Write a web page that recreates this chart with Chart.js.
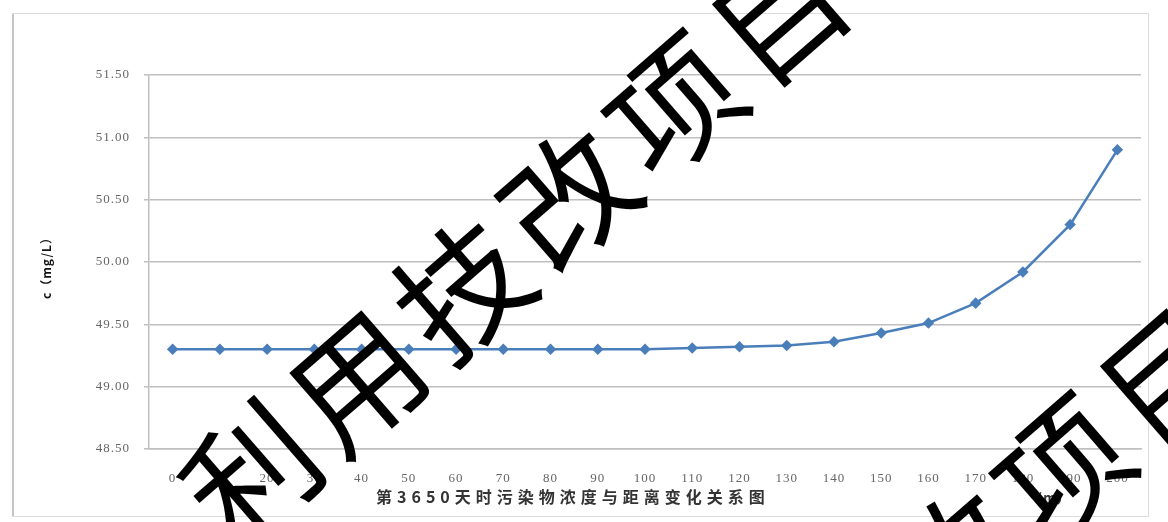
<!DOCTYPE html>
<html>
<head>
<meta charset="utf-8">
<script src="https://cdn.jsdelivr.net/npm/chart.js@4/dist/chart.umd.min.js"></script>
<style>
  html, body { margin: 0; padding: 0; background: #fff; }
  #wrap { width: 1168px; height: 522px; position: relative; }
</style>
</head>
<body>
<div id="wrap"><canvas id="graph"></canvas></div>
<script>
// distance (m) and concentration (mg/L) on day 3650
const distances = ['0', '10', '20', '30', '40', '50', '60', '70', '80', '90', '100',
  '110', '120', '130', '140', '150', '160', '170', '180', '190', '200'];
const concentration = [49.30, 49.30, 49.30, 49.30, 49.30, 49.30, 49.30, 49.30, 49.30, 49.30, 49.30,
  49.31, 49.32, 49.33, 49.36, 49.43, 49.51, 49.67, 49.92, 50.30, 50.90];

const yTitle = 'c（mg/L）';
const xTitle = '第3650天时污染物浓度与距离变化关系图';
const xUnit = '（m）';
const watermark = '利用技改项目';

const framePlugin = {
  id: 'frame',
  beforeUpdate(chart) {
    chart.ctx.letterSpacing = '1px';
  },
  beforeDraw(chart) {
    const ctx = chart.ctx;
    ctx.save();
    ctx.strokeStyle = '#dcdcdc';
    ctx.lineWidth = 1;
    ctx.strokeRect(12.5, 13.5, 1136, 503);
    ctx.strokeStyle = '#c4c4c4';
    ctx.lineWidth = 2;
    ctx.beginPath();
    ctx.moveTo(13, 14);
    ctx.lineTo(13, 516);
    ctx.stroke();
    ctx.restore();
  },
  afterDraw(chart) {
    const ctx = chart.ctx;
    ctx.save();
    // axis titles
    ctx.fillStyle = '#111';
    ctx.font = 'bold 12px "Noto Sans CJK SC"';
    ctx.letterSpacing = '1px';
    ctx.textAlign = 'center';
    ctx.textBaseline = 'middle';
    ctx.translate(46, 265);
    ctx.rotate(-Math.PI / 2);
    ctx.fillText(yTitle, 0, 0);
    ctx.restore();

    ctx.save();
    ctx.fillStyle = '#333';
    ctx.font = 'bold 16px "Noto Sans CJK SC"';
    ctx.letterSpacing = '5px';
    ctx.textAlign = 'left';
    ctx.textBaseline = 'middle';
    ctx.fillText(xTitle, 376, 497);
    ctx.font = 'bold 13px "Noto Sans CJK SC"';
    ctx.letterSpacing = '1px';
    ctx.textAlign = 'center';
    ctx.fillText(xUnit, 1050, 498);
    ctx.restore();

    // watermark over the chart
    const ang = -41 * Math.PI / 180;
    ctx.save();
    ctx.fillStyle = '#000';
    ctx.font = '400 130px "Noto Sans CJK SC"';
    ctx.letterSpacing = '10px';
    ctx.textAlign = 'left';
    ctx.textBaseline = 'middle';
    [[202, 516], [590, 878]].forEach(p => {
      ctx.save();
      ctx.translate(p[0], p[1]);
      ctx.rotate(ang);
      ctx.fillText(watermark, 0, 0);
      ctx.restore();
    });
    ctx.restore();
  }
};

new Chart(document.getElementById('graph'), {
  type: 'line',
  data: {
    labels: distances,
    datasets: [{
      label: 'c',
      data: concentration,
      borderColor: '#4A7EBB',
      backgroundColor: '#4A7EBB',
      borderWidth: 2.5,
      pointStyle: 'rectRot',
      pointRadius: 4,
      pointBackgroundColor: '#4A7EBB',
      pointBorderColor: '#4A7EBB',
      tension: 0
    }]
  },
  options: {
    responsive: true,
    maintainAspectRatio: false,
    animation: false,
    layout: { padding: { top: 75, right: 27, left: 0, bottom: 0 } },
    plugins: {
      legend: { display: false },
      tooltip: { enabled: false }
    },
    scales: {
      x: {
        offset: true,
        grid: { display: false },
        border: { display: true, color: '#bfbfbf', width: 1.5 },
        ticks: {
          color: '#666',
          font: { family: 'Liberation Serif', size: 13 },
          padding: 14,
          maxRotation: 0,
          autoSkip: false
        },
        afterFit(scale) { scale.height = 73; }
      },
      y: {
        min: 48.5,
        max: 51.5,
        grid: { color: '#bfbfbf', lineWidth: 1.5, tickLength: 5 },
        border: { color: '#bfbfbf', width: 1.5 },
        ticks: {
          stepSize: 0.5,
          color: '#666',
          font: { family: 'Liberation Serif', size: 13 },
          padding: 14,
          callback: v => v.toFixed(2)
        },
        afterFit(scale) { scale.width = 149; }
      }
    }
  },
  plugins: [framePlugin]
});
</script>
</body>
</html>
